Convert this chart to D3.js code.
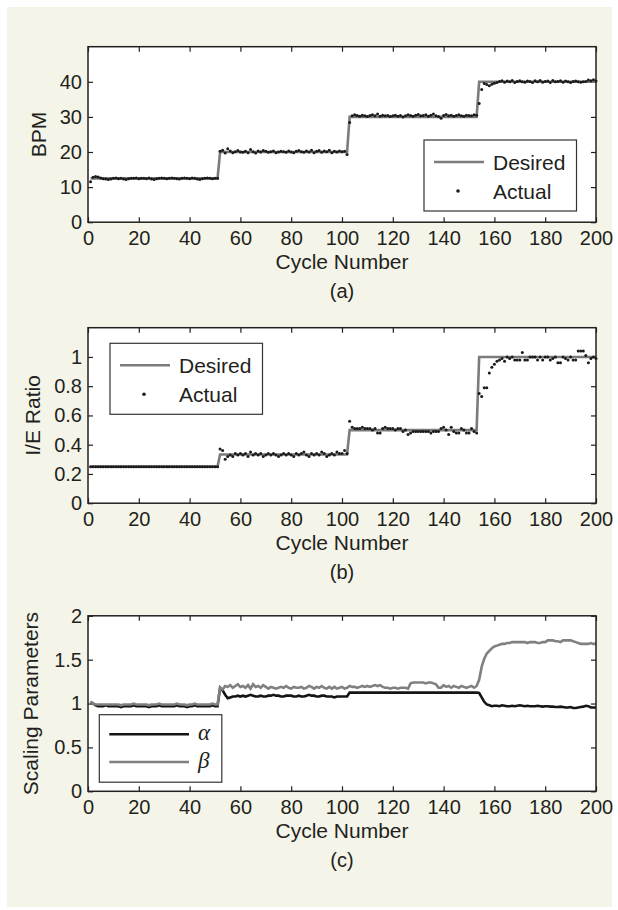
<!DOCTYPE html>
<html>
<head>
<meta charset="utf-8">
<script src="https://cdn.jsdelivr.net/npm/d3@7"></script>
<style>
  body { margin: 0; background: #ffffff; }
  svg { display: block; }
  text { font-family: "Liberation Sans", Arial, Helvetica, sans-serif; fill: #231f20; }
</style>
</head>
<body>
<svg id="chart" width="618" height="910"></svg>
<script>
// ---- data ----
const xTicks = [0, 20, 40, 60, 80, 100, 120, 140, 160, 180, 200];
const bpmTicks = [0, 10, 20, 30, 40];
const ieTicks = [0, 0.2, 0.4, 0.6, 0.8, 1];
const scaleTicks = [0, 0.5, 1, 1.5, 2];

// vertices of the desired step profiles
const desiredCycles = [1, 51, 52, 102, 103, 153, 154, 200];
const bpmDesired = [12.5, 12.5, 20, 20, 30, 30, 40, 40];
const ieDesired = [0.25, 0.25, 0.333, 0.333, 0.5, 0.5, 1, 1];

// measured values, cycle 1..200
const bpmActual = [
  11.5, 12.8, 13.0, 12.9, 12.6, 12.4, 12.3, 12.2, 12.3, 12.5,
  12.6, 12.4, 12.5, 12.3, 12.2, 12.4, 12.5, 12.5, 12.6, 12.4,
  12.5, 12.5, 12.4, 12.6, 12.3, 12.2, 12.4, 12.5, 12.6, 12.5,
  12.4, 12.5, 12.6, 12.5, 12.4, 12.3, 12.5, 12.6, 12.5, 12.4,
  12.6, 12.5, 12.3, 12.2, 12.4, 12.5, 12.6, 12.5, 12.4, 12.5,
  12.5, 20.2, 20.5, 19.7, 20.9, 20.3, 19.8, 20.1, 20.4, 20.0,
  19.9, 20.2, 19.8, 20.7, 20.1, 19.7, 20.3, 20.0, 20.4, 20.2,
  19.9, 20.1, 20.3, 19.8, 20.0, 20.2, 20.1, 19.9, 20.3, 20.0,
  19.8, 20.2, 20.4, 20.1, 19.9, 20.3, 20.0, 20.5, 19.8, 20.2,
  20.4, 19.9, 20.3, 20.1, 20.5, 19.8, 20.2, 20.0, 20.3, 20.1,
  20.2, 19.3, 28.4, 30.3, 30.6, 30.4, 30.2, 30.5, 30.3, 30.1,
  30.4, 30.6, 30.3, 30.8, 30.2, 30.5, 30.3, 30.4, 30.1, 30.3,
  30.5, 30.2, 30.4, 30.0, 30.3, 30.6, 30.4, 30.2, 30.5, 30.7,
  30.3, 30.4, 30.6, 30.2, 30.5, 30.8, 30.3, 30.1, 29.6, 30.4,
  30.7, 30.3, 30.5, 30.2, 30.4, 30.6, 30.3, 30.2, 30.5, 30.4,
  30.3, 30.6, 30.5, 33.8, 37.8, 39.5, 39.2, 38.9, 39.3, 39.6,
  39.8, 40.1, 40.3, 39.9, 40.2, 40.0, 40.4, 39.8, 40.1, 40.3,
  40.0, 39.9, 40.2, 40.1, 39.8, 40.3, 40.0, 40.4, 39.9, 40.1,
  40.2, 39.8, 40.4, 40.0, 40.1, 40.3, 39.9, 40.2, 40.0, 39.8,
  40.1, 40.2, 40.0, 39.9, 40.0, 40.1, 40.5, 40.3, 40.6, 40.2
];

const ieActual = [
  0.25, 0.25, 0.25, 0.25, 0.25, 0.25, 0.25, 0.25, 0.25, 0.25,
  0.25, 0.25, 0.25, 0.25, 0.25, 0.25, 0.25, 0.25, 0.25, 0.25,
  0.25, 0.25, 0.25, 0.25, 0.25, 0.25, 0.25, 0.25, 0.25, 0.25,
  0.25, 0.25, 0.25, 0.25, 0.25, 0.25, 0.25, 0.25, 0.25, 0.25,
  0.25, 0.25, 0.25, 0.25, 0.25, 0.25, 0.25, 0.25, 0.25, 0.25,
  0.25, 0.37, 0.36, 0.30, 0.32, 0.33, 0.32, 0.34, 0.33, 0.34,
  0.33, 0.34, 0.32, 0.35, 0.33, 0.34, 0.33, 0.34, 0.32, 0.33,
  0.34, 0.33, 0.34, 0.33, 0.32, 0.33, 0.34, 0.33, 0.34, 0.33,
  0.32, 0.34, 0.33, 0.34, 0.35, 0.33, 0.32, 0.34, 0.33, 0.34,
  0.33, 0.35, 0.34, 0.32, 0.33, 0.34, 0.33, 0.35, 0.34, 0.34,
  0.36, 0.34, 0.56, 0.52, 0.51, 0.51, 0.51, 0.52, 0.51, 0.51,
  0.51, 0.50, 0.51, 0.48, 0.48, 0.51, 0.52, 0.51, 0.51, 0.51,
  0.50, 0.51, 0.51, 0.49, 0.50, 0.47, 0.48, 0.49, 0.49, 0.49,
  0.49, 0.49, 0.49, 0.49, 0.48, 0.49, 0.49, 0.49, 0.51, 0.52,
  0.50, 0.47, 0.52, 0.49, 0.48, 0.48, 0.51, 0.50, 0.48, 0.48,
  0.51, 0.49, 0.48, 0.75, 0.73, 0.79, 0.79, 0.89, 0.93, 0.95,
  0.97, 0.98, 0.99, 0.97, 1.00, 0.99, 1.00, 0.98, 0.98, 0.98,
  1.03, 0.98, 0.98, 1.00, 1.00, 1.00, 0.98, 1.00, 0.98, 1.00,
  1.00, 0.98, 0.99, 1.00, 0.96, 0.96, 1.00, 0.99, 0.98, 1.00,
  0.98, 0.98, 1.04, 1.04, 1.04, 1.01, 0.96, 0.99, 1.00, 0.99
];

const alphaValues = [
  1.02, 1.00, 0.98, 0.97, 0.97, 0.97, 0.98, 0.97, 0.97, 0.97,
  0.97, 0.97, 0.96, 0.97, 0.97, 0.97, 0.97, 0.98, 0.97, 0.97,
  0.97, 0.97, 0.97, 0.96, 0.97, 0.97, 0.97, 0.98, 0.97, 0.97,
  0.97, 0.97, 0.97, 0.97, 0.98, 0.97, 0.97, 0.97, 0.96, 0.97,
  0.97, 0.98, 0.97, 0.97, 0.97, 0.97, 0.97, 0.97, 0.98, 0.97,
  0.97, 1.18, 1.15, 1.10, 1.06, 1.07, 1.08, 1.08, 1.09, 1.08,
  1.09, 1.08, 1.09, 1.10, 1.09, 1.08, 1.08, 1.09, 1.08, 1.08,
  1.09, 1.09, 1.10, 1.09, 1.09, 1.08, 1.08, 1.09, 1.09, 1.09,
  1.08, 1.08, 1.09, 1.08, 1.08, 1.09, 1.10, 1.09, 1.09, 1.08,
  1.08, 1.09, 1.09, 1.08, 1.08, 1.08, 1.07, 1.08, 1.08, 1.08,
  1.08, 1.08, 1.125, 1.125, 1.125, 1.125, 1.125, 1.125, 1.125, 1.125,
  1.125, 1.125, 1.125, 1.125, 1.125, 1.125, 1.125, 1.125, 1.125, 1.125,
  1.125, 1.125, 1.125, 1.125, 1.125, 1.125, 1.125, 1.125, 1.125, 1.125,
  1.125, 1.125, 1.125, 1.125, 1.125, 1.125, 1.125, 1.125, 1.125, 1.125,
  1.125, 1.125, 1.125, 1.125, 1.125, 1.125, 1.125, 1.125, 1.125, 1.125,
  1.125, 1.125, 1.125, 1.12, 1.07, 1.02, 0.99, 0.98, 0.97, 0.975,
  0.975, 0.97, 0.98, 0.975, 0.97, 0.97, 0.975, 0.97, 0.975, 0.98,
  0.975, 0.97, 0.975, 0.97, 0.97, 0.97, 0.975, 0.97, 0.965, 0.97,
  0.97, 0.965, 0.965, 0.96, 0.96, 0.965, 0.96, 0.955, 0.955, 0.96,
  0.95, 0.95, 0.955, 0.96, 0.965, 0.975, 0.97, 0.955, 0.955, 0.955
];

const betaValues = [
  1.02, 1.00, 0.99, 0.99, 0.99, 0.99, 0.99, 0.99, 0.99, 0.99,
  0.99, 0.99, 0.98, 0.99, 0.99, 0.99, 0.99, 1.00, 0.99, 0.99,
  0.99, 0.99, 0.99, 0.98, 0.99, 0.99, 0.99, 1.00, 0.99, 0.99,
  0.99, 0.99, 0.99, 0.99, 1.00, 0.99, 0.99, 0.99, 0.98, 0.99,
  0.99, 1.00, 0.99, 0.99, 0.99, 0.99, 0.99, 0.99, 1.00, 0.99,
  0.99, 1.18, 1.16, 1.20, 1.19, 1.21, 1.18, 1.20, 1.22, 1.19,
  1.20, 1.18, 1.21, 1.17, 1.22, 1.19, 1.20, 1.18, 1.21, 1.19,
  1.17, 1.19, 1.18, 1.17, 1.18, 1.19, 1.18, 1.20, 1.18, 1.17,
  1.19, 1.18, 1.18, 1.19, 1.17, 1.18, 1.20, 1.19, 1.17, 1.19,
  1.18, 1.20, 1.18, 1.17, 1.19, 1.17, 1.19, 1.17, 1.18, 1.19,
  1.17, 1.18, 1.20, 1.19, 1.19, 1.18, 1.19, 1.20, 1.19, 1.20,
  1.19, 1.20, 1.21, 1.20, 1.21, 1.19, 1.18, 1.18, 1.17, 1.18,
  1.18, 1.17, 1.18, 1.18, 1.18, 1.17, 1.23, 1.24, 1.24, 1.24,
  1.24, 1.24, 1.23, 1.24, 1.24, 1.23, 1.22, 1.18, 1.18, 1.21,
  1.19, 1.20, 1.18, 1.20, 1.19, 1.18, 1.20, 1.19, 1.18, 1.19,
  1.20, 1.18, 1.20, 1.27, 1.42, 1.51, 1.57, 1.60, 1.63, 1.65,
  1.66, 1.67, 1.68, 1.68, 1.69, 1.69, 1.70, 1.70, 1.70, 1.70,
  1.70, 1.70, 1.69, 1.70, 1.70, 1.70, 1.69, 1.69, 1.70, 1.70,
  1.72, 1.72, 1.72, 1.71, 1.71, 1.70, 1.72, 1.72, 1.72, 1.72,
  1.71, 1.70, 1.69, 1.68, 1.68, 1.68, 1.68, 1.69, 1.68, 1.68
];

// ---- layout ----
const svg = d3.select('#chart');
const left = 88, right = 596, plotH = 175.5;
const ink = '#231f20';
const greyLine = '#7b7b7b';

svg.append('rect')
  .attr('x', 7).attr('y', 7).attr('width', 605).attr('height', 900)
  .attr('fill', '#f4f5e8');

const x = d3.scaleLinear().domain([0, 200]).range([left, right]);

function drawPanel(top, yDomain, yTicks, yLabel, yLabelX, caption) {
  const bottom = top + plotH;
  const y = d3.scaleLinear().domain(yDomain).range([bottom, top]);
  const g = svg.append('g');

  g.append('rect')
    .attr('x', left).attr('y', top)
    .attr('width', right - left).attr('height', plotH)
    .attr('fill', '#ffffff');

  const fmt = d3.format('~g');

  const ax = g.append('g').attr('transform', `translate(0,${bottom})`)
    .call(d3.axisBottom(x).tickValues(xTicks).tickSize(-5).tickSizeOuter(0).tickPadding(9).tickFormat(fmt));
  const axTop = g.append('g').attr('transform', `translate(0,${top})`)
    .call(d3.axisTop(x).tickValues(xTicks).tickSize(-5).tickSizeOuter(0).tickFormat(''));
  const ay = g.append('g').attr('transform', `translate(${left},0)`)
    .call(d3.axisLeft(y).tickValues(yTicks).tickSize(-5).tickSizeOuter(0).tickPadding(6).tickFormat(fmt));
  const ayR = g.append('g').attr('transform', `translate(${right},0)`)
    .call(d3.axisRight(y).tickValues(yTicks).tickSize(-5).tickSizeOuter(0).tickFormat(''));

  [ax, axTop, ay, ayR].forEach(a => {
    a.select('.domain').remove();
    a.selectAll('line').attr('stroke', ink).attr('stroke-width', 1.2);
    a.selectAll('text')
      .style('font-family', '"Liberation Sans", Arial, sans-serif')
      .style('font-size', '20px')
      .attr('fill', ink);
  });

  g.append('text')
    .attr('x', (left + right) / 2).attr('y', bottom + 47)
    .attr('text-anchor', 'middle')
    .style('font-size', '21px')
    .text('Cycle Number');

  g.append('text')
    .attr('x', (left + right) / 2).attr('y', bottom + 76)
    .attr('text-anchor', 'middle')
    .style('font-size', '20px')
    .text(caption);

  g.append('text')
    .attr('transform', `translate(${yLabelX},${(top + bottom) / 2}) rotate(-90)`)
    .attr('text-anchor', 'middle')
    .style('font-size', '21px')
    .text(yLabel);

  return { g, y, top, bottom };
}

function drawFrame(p) {
  p.g.append('rect')
    .attr('x', left).attr('y', p.top)
    .attr('width', right - left).attr('height', plotH)
    .attr('fill', 'none').attr('stroke', ink).attr('stroke-width', 1.5);
}

function legendBox(g, bx, by, bw, bh) {
  g.append('rect')
    .attr('x', bx).attr('y', by).attr('width', bw).attr('height', bh)
    .attr('fill', '#ffffff').attr('stroke', '#333333').attr('stroke-width', 1.2);
}

function stepAndDots(p, desired, actual) {
  const line = d3.line()
    .x((d, i) => x(desiredCycles[i]))
    .y(d => p.y(d));
  p.g.append('path')
    .datum(desired)
    .attr('d', line)
    .attr('fill', 'none')
    .attr('stroke', greyLine)
    .attr('stroke-width', 2.6);

  p.g.append('g').selectAll('circle')
    .data(actual)
    .join('circle')
    .attr('cx', (d, i) => x(i + 1))
    .attr('cy', d => p.y(d))
    .attr('r', 1.5)
    .attr('fill', '#1a1a1a');
}

function desiredLegend(p, bx, by) {
  legendBox(p.g, bx, by, 152.5, 71);
  p.g.append('line')
    .attr('x1', bx + 10).attr('x2', bx + 60)
    .attr('y1', by + 22).attr('y2', by + 22)
    .attr('stroke', greyLine).attr('stroke-width', 2.6);
  p.g.append('circle')
    .attr('cx', bx + 34).attr('cy', by + 51).attr('r', 1.8).attr('fill', '#1a1a1a');
  p.g.append('text').attr('x', bx + 69).attr('y', by + 29.5)
    .style('font-size', '21px').text('Desired');
  p.g.append('text').attr('x', bx + 69).attr('y', by + 58.5)
    .style('font-size', '21px').text('Actual');
}

// (a) BPM
const pa = drawPanel(46.7, [0, 50], bpmTicks, 'BPM', 46, '(a)');
stepAndDots(pa, bpmDesired, bpmActual);
drawFrame(pa);
desiredLegend(pa, 424, 140);

// (b) I/E ratio
const pb = drawPanel(327.7, [0, 1.2], ieTicks, 'I/E Ratio', 39.5, '(b)');
stepAndDots(pb, ieDesired, ieActual);
drawFrame(pb);
desiredLegend(pb, 110, 343.3);

// (c) scaling parameters
const pc = drawPanel(615.8, [0, 2], scaleTicks, 'Scaling Parameters', 37.5, '(c)');
const seriesLine = d3.line()
  .x((d, i) => x(i + 1))
  .y(d => pc.y(d));
pc.g.append('path').datum(alphaValues)
  .attr('d', seriesLine).attr('fill', 'none')
  .attr('stroke', '#151515').attr('stroke-width', 2.6);
pc.g.append('path').datum(betaValues)
  .attr('d', seriesLine).attr('fill', 'none')
  .attr('stroke', '#808080').attr('stroke-width', 2.6);
drawFrame(pc);

legendBox(pc.g, 99.3, 714.7, 122.5, 67.5);
pc.g.append('line')
  .attr('x1', 109.3).attr('x2', 189).attr('y1', 734.3).attr('y2', 734.3)
  .attr('stroke', '#151515').attr('stroke-width', 2.6);
pc.g.append('line')
  .attr('x1', 109.3).attr('x2', 189).attr('y1', 762).attr('y2', 762)
  .attr('stroke', '#808080').attr('stroke-width', 2.6);
pc.g.append('text').attr('x', 198).attr('y', 740)
  .style('font-family', '"Liberation Serif", "DejaVu Serif", serif')
  .style('font-style', 'italic').style('font-size', '23px').text('α');
pc.g.append('text').attr('x', 198).attr('y', 768)
  .style('font-family', '"Liberation Serif", "DejaVu Serif", serif')
  .style('font-style', 'italic').style('font-size', '23px').text('β');
</script>
</body>
</html>
